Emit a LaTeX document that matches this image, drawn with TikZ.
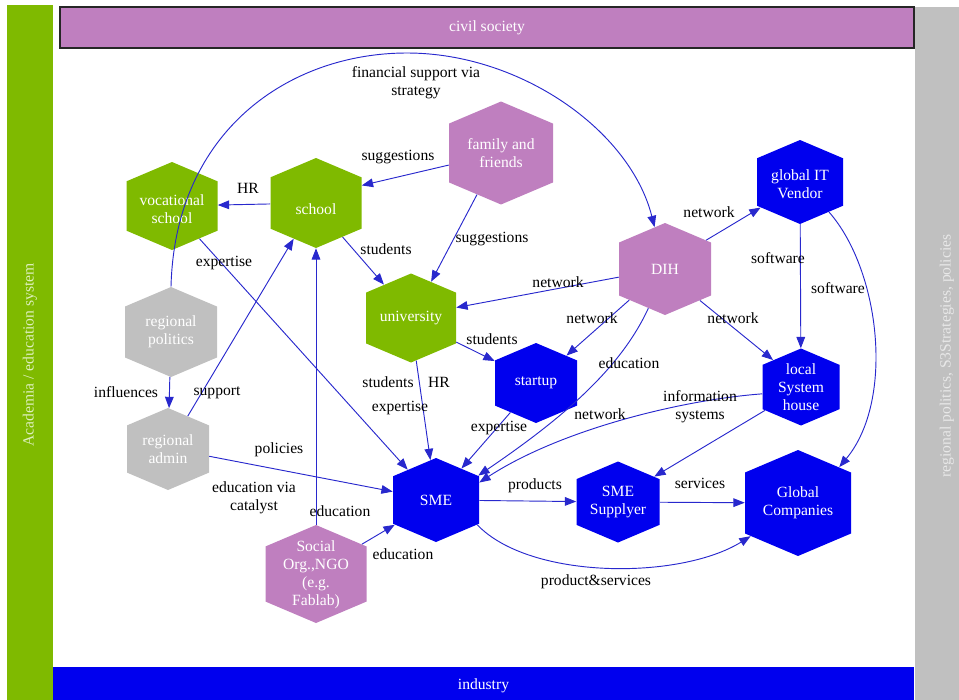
\documentclass[tikz,border=0pt]{standalone}
\usepackage{fontspec}
\setmainfont{Liberation Serif}
\usetikzlibrary{arrows.meta, shapes.symbols}
\definecolor{HexGreen}{RGB}{127,186,0}
\definecolor{HexOrchid}{RGB}{191,127,191}
\definecolor{HexBlue}{RGB}{0,0,238}
\definecolor{HexGray}{RGB}{192,192,192}
\definecolor{LinkBlue}{RGB}{40,40,205}
\definecolor{GreenTxt}{RGB}{222,240,190}
\definecolor{GrayTxt}{RGB}{232,232,232}

\begin{document}
\begin{tikzpicture}[x=0.75pt, y=-0.75pt]

\tikzset{
hexa/.style args={#1/#2/#3}{
shape=signal, signal to=north and south, signal pointer angle=134,
fill=#1, draw=none, inner sep=0pt,
minimum width=#2*0.75pt, minimum height={(#3-0.4245*#2)*0.75pt}
},
hextxt/.style={text=white, align=center, inner sep=0pt,
font=\fontsize{11.7}{13.5}\selectfont},
lbl/.style={align=center, inner sep=0pt,
font=\fontsize{11.7}{13.5}\selectfont},
band/.style={inner sep=0pt, text=white,
font=\fontsize{11.7}{13.5}\selectfont},
conn/.style={draw=LinkBlue, line width=0.7pt,
-{Triangle[length=8.5pt,width=6.5pt]}}
}

\useasboundingbox (0,0) rectangle (959,699);

% side bands
\node[band, fill=HexGreen, text=GreenTxt, rotate=90,
minimum width=700*0.75pt, minimum height=46*0.75pt] (acad) at (30,355)
{Academia / education system};
\node[band, fill=HexGray, text=GrayTxt, rotate=90,
minimum width=698*0.75pt, minimum height=64*0.75pt] (regio) at (947,356)
{regional politics, S3Strategies, policies};
\node[band, fill=HexBlue,
minimum width=861*0.75pt, minimum height=38*0.75pt] (ind) at (483.5,686)
{industry};
\node[band, fill=HexOrchid, draw=black!85, line width=0.8pt,
minimum width=854*0.75pt, minimum height=41*0.75pt] (civil) at (487,27.5)
{civil society};

% actors
\node[hexa=HexGreen/91/88] (voc) at (172,206) {};
\node[hexa=HexGreen/91/90] (school) at (316,203) {};
\node[hexa=HexOrchid/104/103] (fam) at (501,153) {};
\node[hexa=HexBlue/86/84] (git) at (800,182) {};
\node[hexa=HexOrchid/92/92] (dih) at (665,269) {};
\node[hexa=HexGreen/90/89] (uni) at (411,318) {};
\node[hexa=HexGray/92/90] (rpol) at (171,332) {};
\node[hexa=HexGray/82/82] (radm) at (168,449) {};
\node[hexa=HexBlue/82/80] (start) at (536,383) {};
\node[hexa=HexBlue/77/77] (lsh) at (801,387) {};
\node[hexa=HexBlue/86/84] (sme) at (436,500) {};
\node[hexa=HexBlue/83/81] (supp) at (618,502) {};
\node[hexa=HexBlue/106/106] (glob) at (798,503) {};
\node[hexa=HexOrchid/101/98] (ngo) at (316,574) {};

\node[hextxt] (voc-t) at (172,209) {vocational\\school};
\node[hextxt] (school-t) at (voc-t -| school) {school};
\node[hextxt] (fam-t) at (fam) {family and\\friends};
\node[hextxt] (git-t) at (800,184) {global IT\\Vendor};
\node[hextxt] (dih-t) at (dih) {DIH};
\node[hextxt] (uni-t) at (uni) {university};
\node[hextxt] (rpol-t) at (rpol) {regional\\politics};
\node[hextxt] (radm-t) at (radm) {regional\\admin};
\node[hextxt] (start-t) at (start) {startup};
\node[hextxt] (lsh-t) at (lsh) {local\\System\\house};
\node[hextxt] (sme-t) at (sme) {SME};
\node[hextxt] (supp-t) at (supp) {SME\\Supplyer};
\node[hextxt] (glob-t) at (glob) {Global\\Companies};
\node[hextxt] (ngo-t) at (316,575) {Social\\Org.,NGO\\(e.g.\\Fablab)};

% relations
\draw[conn] (fam.193) -- (school.21);
\draw[conn] (school) -- (voc);
\draw[conn] (fam.240) -- (uni.61);
\draw[conn] (school.308) -- (uni.129);
\draw[conn] (rpol.north) .. controls (175,130) and (290,53) .. (407,53)
.. controls (520,53) and (630,130) .. (dih.104);
\draw[conn] (voc.310) -- (sme.133);
\draw[conn] (rpol) -- (radm);
\draw[conn] (radm.59) -- (school.238);
\draw[conn] (radm.350) -- (sme.169);
\draw[conn] (ngo) -- (school);
\draw[conn] (ngo.33) -- (sme.211);
\draw[conn] (uni.277) -- (sme.98);
\draw[conn] (uni.332) -- (start.152);
\draw[conn] (dih.190) -- (uni.13);
\draw[conn] (dih.221) -- (start.42);
\draw[conn] (dih.247) .. controls (620,370) and (560,420) .. (sme.30);
\draw[conn] (start.229) -- (sme.51);
\draw[conn] (dih.35) -- (git.213);
\draw[conn] (git) -- (lsh);
\draw[conn] (git.314) .. controls (880,270) and (895,400) .. (glob.41);
\draw[conn] (dih.318) -- (lsh.136);
\draw[conn] (lsh.190) .. controls (680,400) and (560,430) .. (sme.22);
\draw[conn] (lsh.213) -- (supp.35);
\draw[conn] (sme) -- (supp);
\draw[conn] (supp) -- (glob);
\draw[conn] (sme.329) .. controls (530,580) and (680,580) .. (glob.215);

% relation labels
\node[lbl] (lfin) at (416,83) {financial support via\\strategy};
\node[lbl] (lsug1) at (398,157) {suggestions};
\node[lbl] (lhr1) at (248,188) {HR};
\node[lbl] (lsug2) at (492,239) {suggestions};
\node[lbl] (lstu1) at (386,249) {students};
\node[lbl] (lexp1) at (224,263) {expertise};
\node[lbl] (lnet1) at (709,212) {network};
\node[lbl] (lsw1) at (778,258) {software};
\node[lbl] (lsw2) at (838,288) {software};
\node[lbl] (lnet2) at (558,282) {network};
\node[lbl] (lnet3) at (592,318) {network};
\node[lbl] (lnet4) at (733,318) {network};
\node[lbl] (lstu2) at (492,339) {students};
\node[lbl] (ledu1) at (629,363) {education};
\node[lbl] (lstu3) at (388,382) {students};
\node[lbl] (lhr2) at (439,382) {HR};
\node[lbl] (lexp2) at (400,408) {expertise};
\node[lbl] (linf) at (126,392) {influences};
\node[lbl] (lsup) at (217,393) {support};
\node[lbl] (lis) at (700,407) {information\\systems};
\node[lbl] (lnet5) at (600,414) {network};
\node[lbl] (lexp3) at (499,428) {expertise};
\node[lbl] (lpol) at (279,450) {policies};
\node[lbl] (lprod) at (535,486) {products};
\node[lbl] (lserv) at (700,483) {services};
\node[lbl] (lcat) at (254,498) {education via\\catalyst};
\node[lbl] (ledu2) at (340,511) {education};
\node[lbl] (ledu3) at (403,554) {education};
\node[lbl] (lps) at (596,582) {product\&services};

\end{tikzpicture}
\end{document}
